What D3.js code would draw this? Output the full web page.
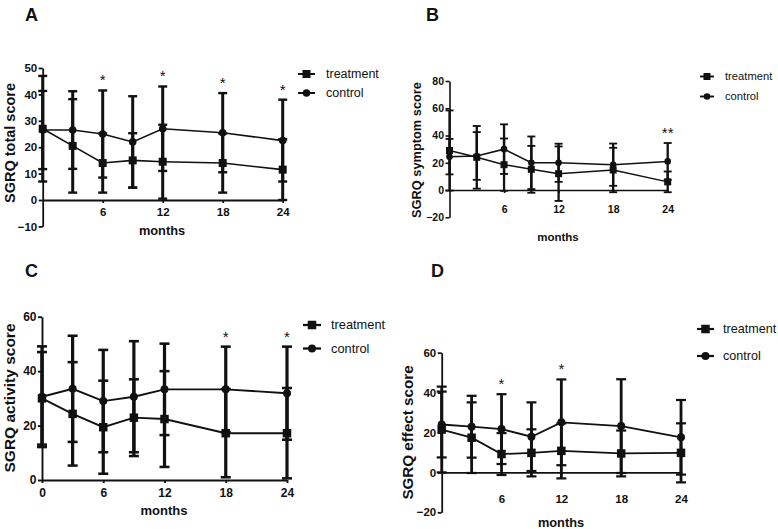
<!DOCTYPE html>
<html>
<head>
<meta charset="utf-8">
<script src="https://cdn.jsdelivr.net/npm/d3@7"></script>
<style>
  html, body { margin: 0; padding: 0; background: #fff; }
  svg { display: block; font-family: "Liberation Sans", Arial, sans-serif; }
</style>
</head>
<body>
<svg id="chart" width="778" height="529"></svg>
<script>
// ---------- data ----------
const months = [0, 3, 6, 9, 12, 18, 24];
const seriesNames = ["treatment", "control"];

// Panel A: SGRQ total score
const aTreatMean = [27, 20.5, 14, 15, 14.5, 14, 11.5];
const aTreatSD   = [20, 17.7, 11.2, 10.3, 14, 11.2, 11.5];
const aCtrlMean  = [26.5, 26.5, 25, 22, 27, 25.5, 22.5];
const aCtrlSD    = [14.8, 14.7, 16.5, 17.3, 16, 15, 15.5];
const aSig       = ["", "", "*", "", "*", "*", "*"];
const aYTicks    = [-10, 0, 10, 20, 30, 40, 50];
const aXTicks    = [6, 12, 18, 24];

// Panel B: SGRQ symptom score
const bTreatMean = [29, 24, 18.6, 15.2, 12, 14.7, 6];
const bTreatSD   = [29.4, 23, 19.2, 17.2, 20, 16.3, 7.6];
const bCtrlMean  = [24.5, 25, 30, 20, 20, 18.6, 21];
const bCtrlSD    = [13, 17.5, 18.2, 19.3, 14, 15.5, 13.5];
const bSig       = ["", "", "", "", "", "", "**"];
const bYTicks    = [-20, 0, 20, 40, 60, 80];
const bXTicks    = [6, 12, 18, 24];

// Panel C: SGRQ activity score
const cTreatMean = [30, 24.3, 19.4, 22.9, 22.4, 17.2, 17.2];
const cTreatSD   = [17, 19, 17.1, 14.1, 17.6, 16.2, 16.6];
const cCtrlMean  = [30.6, 33.5, 29, 30.6, 33.3, 33.3, 31.9];
const cCtrlSD    = [18.5, 19.5, 18.8, 20.4, 16.8, 15.7, 17.1];
const cSig       = ["", "", "", "", "", "*", "*"];
const cYTicks    = [0, 20, 40, 60];
const cXTicks    = [0, 6, 12, 18, 24];

// Panel D: SGRQ effect score
const dTreatMean = [21.5, 17.4, 9.2, 9.8, 10.8, 9.5, 9.8];
const dTreatSD   = [21.5, 17.7, 10.5, 11.8, 13.8, 11.5, 14.8];
const dCtrlMean  = [24, 22.9, 21.7, 17.9, 25.1, 23.2, 17.6];
const dCtrlSD    = [16.5, 15.5, 17.5, 17.2, 21.5, 23.5, 18.7];
const dSig       = ["", "", "*", "", "*", "", ""];
const dYTicks    = [-20, 0, 20, 40, 60];
const dXTicks    = [6, 12, 18, 24];

// ---------- layout per panel ----------
const panels = [
  { letter: "A", letterPos: [25, 21], letterSize: 18,
    ylabel: "SGRQ total score", ylabelPos: [9.5, 143], ylabelSize: 14.5,
    tMean: aTreatMean, tSD: aTreatSD, cMean: aCtrlMean, cSD: aCtrlSD, sig: aSig,
    yTicks: aYTicks, xTicks: aXTicks,
    xRange: [42.7, 282.7], yDomain: [-10, 50], yRange: [226.4, 68],
    tickFont: 11.5, xPad: 5, monthsPos: [162, 231], monthsSize: 12.8,
    barW: 3, capW: 9, lineW: 1.6, sq: 8, circ: 3.8, axisW: 1.8,
    legX: [298, 315], legTextX: 326, legY: [74, 93], legSize: 12.5 },
  { letter: "B", letterPos: [426, 21], letterSize: 18,
    ylabel: "SGRQ symptom score", ylabelPos: [417, 150], ylabelSize: 12.8,
    tMean: bTreatMean, tSD: bTreatSD, cMean: bCtrlMean, cSD: bCtrlSD, sig: bSig,
    yTicks: bYTicks, xTicks: bXTicks,
    xRange: [449.5, 667.7], yDomain: [-20, 80], yRange: [217.3, 81],
    tickFont: 10.5, xPad: 13, monthsPos: [558, 237], monthsSize: 11.5,
    barW: 2.3, capW: 8, lineW: 1.5, sq: 7, circ: 3.3, axisW: 1.6,
    legX: [700, 714], legTextX: 725, legY: [76.5, 96.5], legSize: 11.2 },
  { letter: "C", letterPos: [25, 277], letterSize: 18,
    ylabel: "SGRQ activity score", ylabelPos: [10, 398], ylabelSize: 15.5,
    tMean: cTreatMean, tSD: cTreatSD, cMean: cCtrlMean, cSD: cCtrlSD, sig: cSig,
    yTicks: cYTicks, xTicks: cXTicks,
    xRange: [42, 287], yDomain: [0, 60], yRange: [480, 316.7],
    tickFont: 12, xPad: 5, monthsPos: [164, 510], monthsSize: 13,
    barW: 3.2, capW: 10, lineW: 1.9, sq: 8.5, circ: 4, axisW: 1.9,
    legX: [303, 321], legTextX: 331, legY: [325, 348.5], legSize: 12.8 },
  { letter: "D", letterPos: [431, 277], letterSize: 18,
    ylabel: "SGRQ effect score", ylabelPos: [407.5, 432.5], ylabelSize: 15.2,
    tMean: dTreatMean, tSD: dTreatSD, cMean: dCtrlMean, cSD: dCtrlSD, sig: dSig,
    yTicks: dYTicks, xTicks: dXTicks,
    xRange: [441.7, 681], yDomain: [-20, 60], yRange: [512.3, 352.7],
    tickFont: 11.5, xPad: 19.5, monthsPos: [561, 523], monthsSize: 12.8,
    barW: 2.8, capW: 10, lineW: 1.8, sq: 8.5, circ: 4, axisW: 1.8,
    legX: [697, 714], legTextX: 723, legY: [329, 356], legSize: 12.6 }
];

const svg = d3.select("#chart");
const ink = "#111";

panels.forEach(p => {
  const g = svg.append("g");
  const x = d3.scaleLinear().domain([0, 24]).range(p.xRange);
  const y = d3.scaleLinear().domain(p.yDomain).range(p.yRange);

  // panel letter
  g.append("text").attr("x", p.letterPos[0]).attr("y", p.letterPos[1])
    .attr("font-size", p.letterSize).attr("font-weight", "bold").attr("fill", ink)
    .text(p.letter);

  // y axis
  const yAxis = d3.axisLeft(y).tickValues(p.yTicks).tickSize(4).tickSizeOuter(0).tickPadding(1.5)
    .tickFormat(d3.format("d"));
  const gy = g.append("g").attr("transform", `translate(${p.xRange[0]},0)`).call(yAxis);
  gy.select(".domain").attr("stroke", ink).attr("stroke-width", p.axisW);
  gy.selectAll(".tick line").attr("stroke", ink).attr("stroke-width", p.axisW);
  gy.selectAll(".tick text").attr("font-size", p.tickFont).attr("font-weight", "bold")
    .attr("fill", ink).attr("font-family", "Liberation Sans, Arial, sans-serif");

  // x axis at y = 0
  const xAxis = d3.axisBottom(x).tickValues(p.xTicks).tickSize(3).tickSizeOuter(0).tickPadding(p.xPad)
    .tickFormat(d3.format("d"));
  const gx = g.append("g").attr("transform", `translate(0,${y(0)})`).call(xAxis);
  gx.select(".domain").attr("stroke", ink).attr("stroke-width", p.axisW);
  gx.selectAll(".tick line").attr("stroke", ink).attr("stroke-width", p.axisW);
  gx.selectAll(".tick text").attr("font-size", p.tickFont).attr("font-weight", "bold")
    .attr("fill", ink).attr("font-family", "Liberation Sans, Arial, sans-serif");

  // axis titles
  g.append("text").attr("x", p.monthsPos[0]).attr("y", p.monthsPos[1]).attr("dy", "0.35em")
    .attr("text-anchor", "middle").attr("font-size", p.monthsSize).attr("font-weight", "bold")
    .attr("fill", ink).text("months");
  g.append("text")
    .attr("transform", `translate(${p.ylabelPos[0]},${p.ylabelPos[1]}) rotate(-90)`)
    .attr("dy", "0.35em").attr("text-anchor", "middle")
    .attr("font-size", p.ylabelSize).attr("font-weight", "bold").attr("fill", ink)
    .text(p.ylabel);

  const series = [
    { name: seriesNames[0], mean: p.tMean, sd: p.tSD, shape: "square" },
    { name: seriesNames[1], mean: p.cMean, sd: p.cSD, shape: "circle" }
  ];

  // error bars
  series.forEach(s => {
    const eb = g.append("g");
    months.forEach((m, i) => {
      const hi = y(s.mean[i] + s.sd[i]), lo = y(s.mean[i] - s.sd[i]), cx = x(m);
      eb.append("line").attr("x1", cx).attr("x2", cx).attr("y1", hi).attr("y2", lo)
        .attr("stroke", ink).attr("stroke-width", p.barW);
      [hi, lo].forEach(yy => eb.append("line")
        .attr("x1", cx - p.capW / 2).attr("x2", cx + p.capW / 2).attr("y1", yy).attr("y2", yy)
        .attr("stroke", ink).attr("stroke-width", p.barW * 0.8));
    });
  });

  // lines and markers
  const line = d3.line().x((d, i) => x(months[i])).y(d => y(d));
  series.forEach(s => {
    g.append("path").datum(s.mean).attr("d", line).attr("fill", "none")
      .attr("stroke", ink).attr("stroke-width", p.lineW);
    months.forEach((m, i) => {
      if (s.shape === "square") {
        g.append("rect").attr("x", x(m) - p.sq / 2).attr("y", y(s.mean[i]) - p.sq / 2)
          .attr("width", p.sq).attr("height", p.sq).attr("fill", ink);
      } else {
        g.append("circle").attr("cx", x(m)).attr("cy", y(s.mean[i])).attr("r", p.circ).attr("fill", ink);
      }
    });
  });

  // significance marks
  months.forEach((m, i) => {
    if (!p.sig[i]) return;
    const top = Math.max(p.tMean[i] + p.tSD[i], p.cMean[i] + p.cSD[i]);
    g.append("text").attr("x", x(m)).attr("y", y(top) - 5)
      .attr("text-anchor", "middle").attr("font-size", 15).attr("font-weight", "normal")
      .attr("fill", ink).text(p.sig[i]);
  });

  // legend
  series.forEach((s, k) => {
    const ly = p.legY[k];
    const mx = (p.legX[0] + p.legX[1]) / 2;
    g.append("line").attr("x1", p.legX[0]).attr("x2", p.legX[1]).attr("y1", ly).attr("y2", ly)
      .attr("stroke", ink).attr("stroke-width", p.lineW + 0.4);
    if (s.shape === "square") {
      g.append("rect").attr("x", mx - p.sq / 2).attr("y", ly - p.sq / 2)
        .attr("width", p.sq).attr("height", p.sq).attr("fill", ink);
    } else {
      g.append("circle").attr("cx", mx).attr("cy", ly).attr("r", p.circ).attr("fill", ink);
    }
    g.append("text").attr("x", p.legTextX).attr("y", ly).attr("dy", "0.35em")
      .attr("font-size", p.legSize).attr("fill", ink).text(s.name);
  });
});
</script>
</body>
</html>
